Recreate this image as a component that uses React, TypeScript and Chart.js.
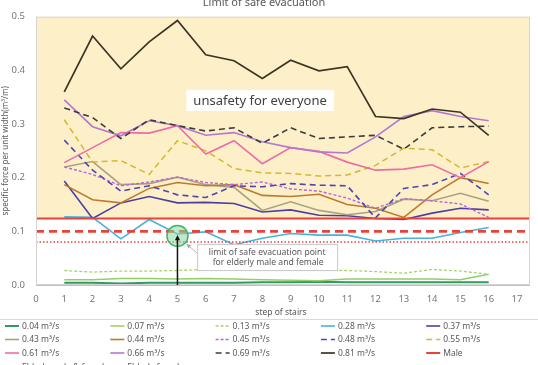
import React, { useEffect, useRef } from "react";
import { Chart, registerables } from "chart.js";

Chart.register(...registerables);

// ---------- data ----------
const steps = [1, 2, 3, 4, 5, 6, 7, 8, 9, 10, 11, 12, 13, 14, 15, 16];
const xTickValues = [0, 1, 2, 3, 4, 5, 6, 7, 8, 9, 10, 11, 12, 13, 14, 15, 16, 17];
const yTickValues = [0, 0.1, 0.2, 0.3, 0.4, 0.5];
const xMin = 0;
const xMax = 17.46;
const yMin = 0;
const yMax = 0.5;

const flow004 = [0.004, 0.004, 0.003, 0.004, 0.004, 0.004, 0.004, 0.005, 0.005, 0.006, 0.005, 0.005, 0.005, 0.005, 0.005, 0.005];
const flow007 = [0.010, 0.010, 0.012, 0.012, 0.011, 0.012, 0.011, 0.010, 0.009, 0.008, 0.011, 0.011, 0.011, 0.011, 0.010, 0.020];
const flow013 = [0.027, 0.024, 0.026, 0.026, 0.027, 0.029, 0.028, 0.028, 0.028, 0.028, 0.027, 0.025, 0.022, 0.029, 0.026, 0.020];
const flow028 = [0.127, 0.126, 0.086, 0.122, 0.095, 0.099, 0.075, 0.087, 0.096, 0.093, 0.093, 0.082, 0.087, 0.087, 0.098, 0.107];
const flow037 = [0.194, 0.124, 0.153, 0.165, 0.153, 0.154, 0.152, 0.136, 0.140, 0.130, 0.129, 0.124, 0.122, 0.134, 0.143, 0.140];
const flow043 = [0.220, 0.230, 0.187, 0.189, 0.201, 0.187, 0.182, 0.139, 0.155, 0.139, 0.131, 0.137, 0.160, 0.157, 0.171, 0.156];
const flow044 = [0.187, 0.159, 0.153, 0.180, 0.191, 0.185, 0.187, 0.167, 0.165, 0.169, 0.150, 0.143, 0.126, 0.168, 0.200, 0.189];
const flow045 = [0.220, 0.206, 0.185, 0.192, 0.201, 0.191, 0.187, 0.192, 0.179, 0.175, 0.162, 0.143, 0.161, 0.157, 0.151, 0.126];
const flow048 = [0.270, 0.214, 0.175, 0.185, 0.168, 0.163, 0.185, 0.183, 0.189, 0.186, 0.185, 0.125, 0.180, 0.187, 0.208, 0.168];
const flow055 = [0.308, 0.229, 0.232, 0.206, 0.269, 0.250, 0.217, 0.209, 0.208, 0.203, 0.205, 0.223, 0.255, 0.252, 0.218, 0.230];
const flow061 = [0.228, 0.256, 0.284, 0.283, 0.297, 0.244, 0.269, 0.226, 0.256, 0.249, 0.229, 0.214, 0.216, 0.224, 0.200, 0.230];
const flow066 = [0.345, 0.295, 0.278, 0.306, 0.297, 0.279, 0.284, 0.267, 0.256, 0.248, 0.246, 0.276, 0.314, 0.325, 0.314, 0.306];
const flow069 = [0.330, 0.312, 0.273, 0.308, 0.297, 0.287, 0.293, 0.264, 0.293, 0.273, 0.276, 0.279, 0.253, 0.293, 0.295, 0.296];
const flow081 = [0.360, 0.464, 0.403, 0.453, 0.493, 0.429, 0.418, 0.385, 0.419, 0.399, 0.407, 0.314, 0.310, 0.328, 0.322, 0.279];

const maleLimit = 0.124;
const elderlyLimit = 0.1;
const elderlyFemaleLimit = 0.08;

const seriesLabels = [
  "0.04 m³/s", "0.07 m³/s", "0.13 m³/s", "0.28 m³/s", "0.37 m³/s",
  "0.43 m³/s", "0.44 m³/s", "0.45 m³/s", "0.48 m³/s", "0.55 m³/s",
  "0.61 m³/s", "0.66 m³/s", "0.69 m³/s", "0.81 m³/s",
];
const seriesValues = [
  flow004, flow007, flow013, flow028, flow037,
  flow043, flow044, flow045, flow048, flow055,
  flow061, flow066, flow069, flow081,
];
const limitLabels = ["Male", "Elderly male & female", "Elderly female"];
const limitValues = [maleLimit, elderlyLimit, elderlyFemaleLimit];

const chartTitle = "Limit of safe evacuation";
const xTitle = "step of stairs";
const yTitle = "specific force per unit width(m³/m)";
const zoneLabel = "unsafety for everyone";
const calloutLines = ["limit of safe evacuation point", "for elderly male and female"];
const limitPoint = { x: 5, y: 0.0915 };
const zoneLabelAt = { x: 7.92, y: 0.344 };
const calloutAt = { x: 8.17, y: 0.052 };

// ---------- styles ----------
const seriesStyles = [
  { color: "#2F9B62", dash: [] as number[], width: 2 },
  { color: "#93CF66", dash: [], width: 1.5 },
  { color: "#A6D46A", dash: [3, 2], width: 1.3 },
  { color: "#45B3DD", dash: [], width: 1.6 },
  { color: "#4B3FA6", dash: [], width: 1.6 },
  { color: "#A8A37F", dash: [], width: 1.6 },
  { color: "#BE7A2C", dash: [], width: 1.6 },
  { color: "#B866E0", dash: [3, 2], width: 1.4 },
  { color: "#4E44B2", dash: [6, 4], width: 1.6 },
  { color: "#D3B833", dash: [6, 4], width: 1.5 },
  { color: "#EF6BA6", dash: [], width: 1.6 },
  { color: "#B477D4", dash: [], width: 1.6 },
  { color: "#3C3C3C", dash: [6, 4], width: 1.6 },
  { color: "#3A3524", dash: [], width: 1.7 },
];
const RED = "#E8423A";
const limitStyles = [
  { color: RED, dash: [] as number[], width: 2 },
  { color: RED, dash: [8, 5], width: 2.6 },
  { color: RED, dash: [1.5, 2], width: 1.4 },
];
const FONT = '"Noto Sans", sans-serif';
const TEXT = "#595959";
const TICK = "#777777";

function arrowHead(ctx: CanvasRenderingContext2D, x1: number, y1: number, x2: number, y2: number, size: number) {
  const a = Math.atan2(y2 - y1, x2 - x1);
  ctx.beginPath();
  ctx.moveTo(x2, y2);
  ctx.lineTo(x2 - size * Math.cos(a - 0.45), y2 - size * Math.sin(a - 0.45));
  ctx.lineTo(x2 - size * Math.cos(a + 0.45), y2 - size * Math.sin(a + 0.45));
  ctx.closePath();
  ctx.fill();
}

const decorPlugin = {
  id: "decor",
  beforeDatasetsDraw(chart: any) {
    const { ctx, chartArea: a, scales } = chart;
    const y = scales.y;
    const top = y.getPixelForValue(yMax);
    const bot = y.getPixelForValue(maleLimit);
    ctx.save();
    ctx.fillStyle = "#FDF0C8";
    ctx.fillRect(a.left, top, a.right - a.left, bot - top);
    ctx.restore();
  },
  afterDatasetsDraw(chart: any) {
    const { ctx, chartArea: a, scales } = chart;
    const x = scales.x;
    const y = scales.y;
    ctx.save();
    // plot border
    ctx.strokeStyle = "#D4D4D4";
    ctx.lineWidth = 1;
    ctx.strokeRect(a.left + 0.5, a.top + 0.5, a.right - a.left - 1, a.bottom - a.top - 1);
    ctx.strokeStyle = "#BFBFBF";
    ctx.beginPath();
    ctx.moveTo(a.left, a.bottom + 0.5);
    ctx.lineTo(a.right, a.bottom + 0.5);
    ctx.stroke();

    // zone label
    const zx = x.getPixelForValue(zoneLabelAt.x);
    const zy = y.getPixelForValue(zoneLabelAt.y);
    ctx.font = `13px ${FONT}`;
    const zw = ctx.measureText(zoneLabel).width + 14;
    ctx.fillStyle = "#FFFFFF";
    ctx.fillRect(zx - zw / 2, zy - 10.5, zw, 21);
    ctx.fillStyle = "#404040";
    ctx.textAlign = "center";
    ctx.textBaseline = "middle";
    ctx.fillText(zoneLabel, zx, zy + 0.5);

    // green circle at limit point
    const cx = x.getPixelForValue(limitPoint.x);
    const cy = y.getPixelForValue(limitPoint.y);
    ctx.beginPath();
    ctx.arc(cx, cy, 10.5, 0, Math.PI * 2);
    ctx.fillStyle = "rgba(140, 215, 160, 0.55)";
    ctx.fill();
    ctx.strokeStyle = "#3DB56B";
    ctx.lineWidth = 1.5;
    ctx.stroke();

    // black arrow from axis to the point
    const by = y.getPixelForValue(yMin);
    ctx.strokeStyle = "#111111";
    ctx.fillStyle = "#111111";
    ctx.lineWidth = 1.5;
    ctx.beginPath();
    ctx.moveTo(cx, by);
    ctx.lineTo(cx, cy + 4);
    ctx.stroke();
    arrowHead(ctx, cx, by, cx, cy - 1, 6);

    // callout box
    const bx = x.getPixelForValue(calloutAt.x);
    const byc = y.getPixelForValue(calloutAt.y);
    const bw = 140;
    const bh = 26;
    const left = bx - bw / 2;
    const topB = byc - bh / 2;
    ctx.strokeStyle = "#A6A6A6";
    ctx.fillStyle = "#A6A6A6";
    ctx.lineWidth = 0.8;
    ctx.beginPath();
    ctx.moveTo(left, topB + 9);
    ctx.lineTo(cx + 9, cy + 8);
    ctx.stroke();
    arrowHead(ctx, left, topB + 9, cx + 9, cy + 8, 5);
    ctx.fillStyle = "#FFFFFF";
    ctx.fillRect(left, topB, bw, bh);
    ctx.strokeStyle = "#C8C8C8";
    ctx.lineWidth = 1;
    ctx.strokeRect(left + 0.5, topB + 0.5, bw, bh);
    ctx.fillStyle = TEXT;
    ctx.font = `8.6px ${FONT}`;
    ctx.fillText(calloutLines[0], bx, topB + 8);
    ctx.fillText(calloutLines[1], bx + 1, topB + 18.5);
    ctx.restore();
  },
  afterDraw(chart: any) {
    const { ctx, chartArea: a, width } = chart;
    ctx.save();
    // title (partly above the canvas)
    ctx.fillStyle = TEXT;
    ctx.font = `11px ${FONT}`;
    ctx.textAlign = "center";
    ctx.textBaseline = "alphabetic";
    ctx.fillText(chartTitle, 264, 5.5);

    // x title
    ctx.font = `8.5px ${FONT}`;
    ctx.textBaseline = "middle";
    ctx.fillText(xTitle, 281, 312.5);

    // y title
    ctx.save();
    ctx.translate(6, (a.top + a.bottom) / 2);
    ctx.rotate(-Math.PI / 2);
    ctx.font = `8px ${FONT}`;
    ctx.fillText(yTitle, 0, 0);
    ctx.restore();

    // separator
    ctx.strokeStyle = "#D9D9D9";
    ctx.lineWidth = 1;
    ctx.beginPath();
    ctx.moveTo(0, 319.5);
    ctx.lineTo(width, 319.5);
    ctx.stroke();

    // legend
    const items = chart.data.datasets.map((d: any) => ({
      label: d.label,
      color: d.borderColor,
      dash: d.borderDash,
      width: d.borderWidth,
    }));
    const rowsY = [326, 339.5, 353, 367.5];
    ctx.font = `8.5px ${FONT}`;
    ctx.textAlign = "left";
    items.forEach((it: any, i: number) => {
      const col = i % 5;
      const row = Math.floor(i / 5);
      const x0 = 5 + col * 105.3;
      const yy = rowsY[row];
      ctx.strokeStyle = it.color;
      ctx.lineWidth = Math.min(it.width, 2);
      ctx.setLineDash(it.dash || []);
      ctx.beginPath();
      ctx.moveTo(x0, yy);
      ctx.lineTo(x0 + 14, yy);
      ctx.stroke();
      ctx.setLineDash([]);
      ctx.fillStyle = TEXT;
      ctx.fillText(it.label, x0 + 17, yy + 0.5);
    });
    ctx.restore();
  },
};

export default function App() {
  const ref = useRef<HTMLCanvasElement | null>(null);

  useEffect(() => {
    if (!ref.current) return;
    const n = seriesValues.length;
    const datasets: any[] = seriesValues.map((vals, i) => ({
      label: seriesLabels[i],
      data: steps.map((s, k) => ({ x: s, y: vals[k] })),
      borderColor: seriesStyles[i].color,
      backgroundColor: seriesStyles[i].color,
      borderDash: seriesStyles[i].dash,
      borderWidth: seriesStyles[i].width,
      pointRadius: 0,
      tension: 0,
      fill: false,
      order: n + 3 - i,
    }));
    limitValues.forEach((v, i) => {
      datasets.push({
        label: limitLabels[i],
        data: [{ x: xMin, y: v }, { x: xMax, y: v }],
        borderColor: limitStyles[i].color,
        backgroundColor: limitStyles[i].color,
        borderDash: limitStyles[i].dash,
        borderWidth: limitStyles[i].width,
        pointRadius: 0,
        tension: 0,
        fill: false,
        order: 3 - i,
      });
    });

    const chart = new Chart(ref.current, {
      type: "line",
      data: { datasets },
      options: {
        animation: false,
        responsive: false,
        maintainAspectRatio: false,
        layout: { padding: { top: 12, right: 8, left: 0, bottom: 0 } },
        plugins: {
          legend: { display: false },
          title: { display: false },
          tooltip: { enabled: false },
        },
        scales: {
          x: {
            type: "linear",
            min: xMin,
            max: xMax,
            grid: { display: false, drawTicks: false },
            border: { display: false },
            afterBuildTicks: (s: any) => {
              s.ticks = xTickValues.map((v) => ({ value: v }));
            },
            afterFit: (s: any) => {
              s.height = 80;
            },
            ticks: {
              color: TICK,
              font: { family: FONT, size: 9.5 },
              padding: 9,
              maxRotation: 0,
              autoSkip: false,
              callback: (v: any) => String(v),
            },
          },
          y: {
            type: "linear",
            min: yMin,
            max: yMax,
            grid: { display: false, drawTicks: false },
            border: { display: false },
            afterBuildTicks: (s: any) => {
              s.ticks = yTickValues.map((v) => ({ value: v }));
            },
            afterFit: (s: any) => {
              s.width = 36;
            },
            ticks: {
              color: TICK,
              font: { family: FONT, size: 9.5 },
              padding: 11,
              callback: (v: any) => Number(v).toFixed(1),
            },
          },
        },
      },
      plugins: [decorPlugin],
    } as any);
    return () => chart.destroy();
  }, []);

  return (
    <div style={{ position: "fixed", left: 0, top: 0, width: 538, height: 365, background: "#fff" }}>
      <canvas ref={ref} width={538} height={365} style={{ display: "block" }} />
    </div>
  );
}
